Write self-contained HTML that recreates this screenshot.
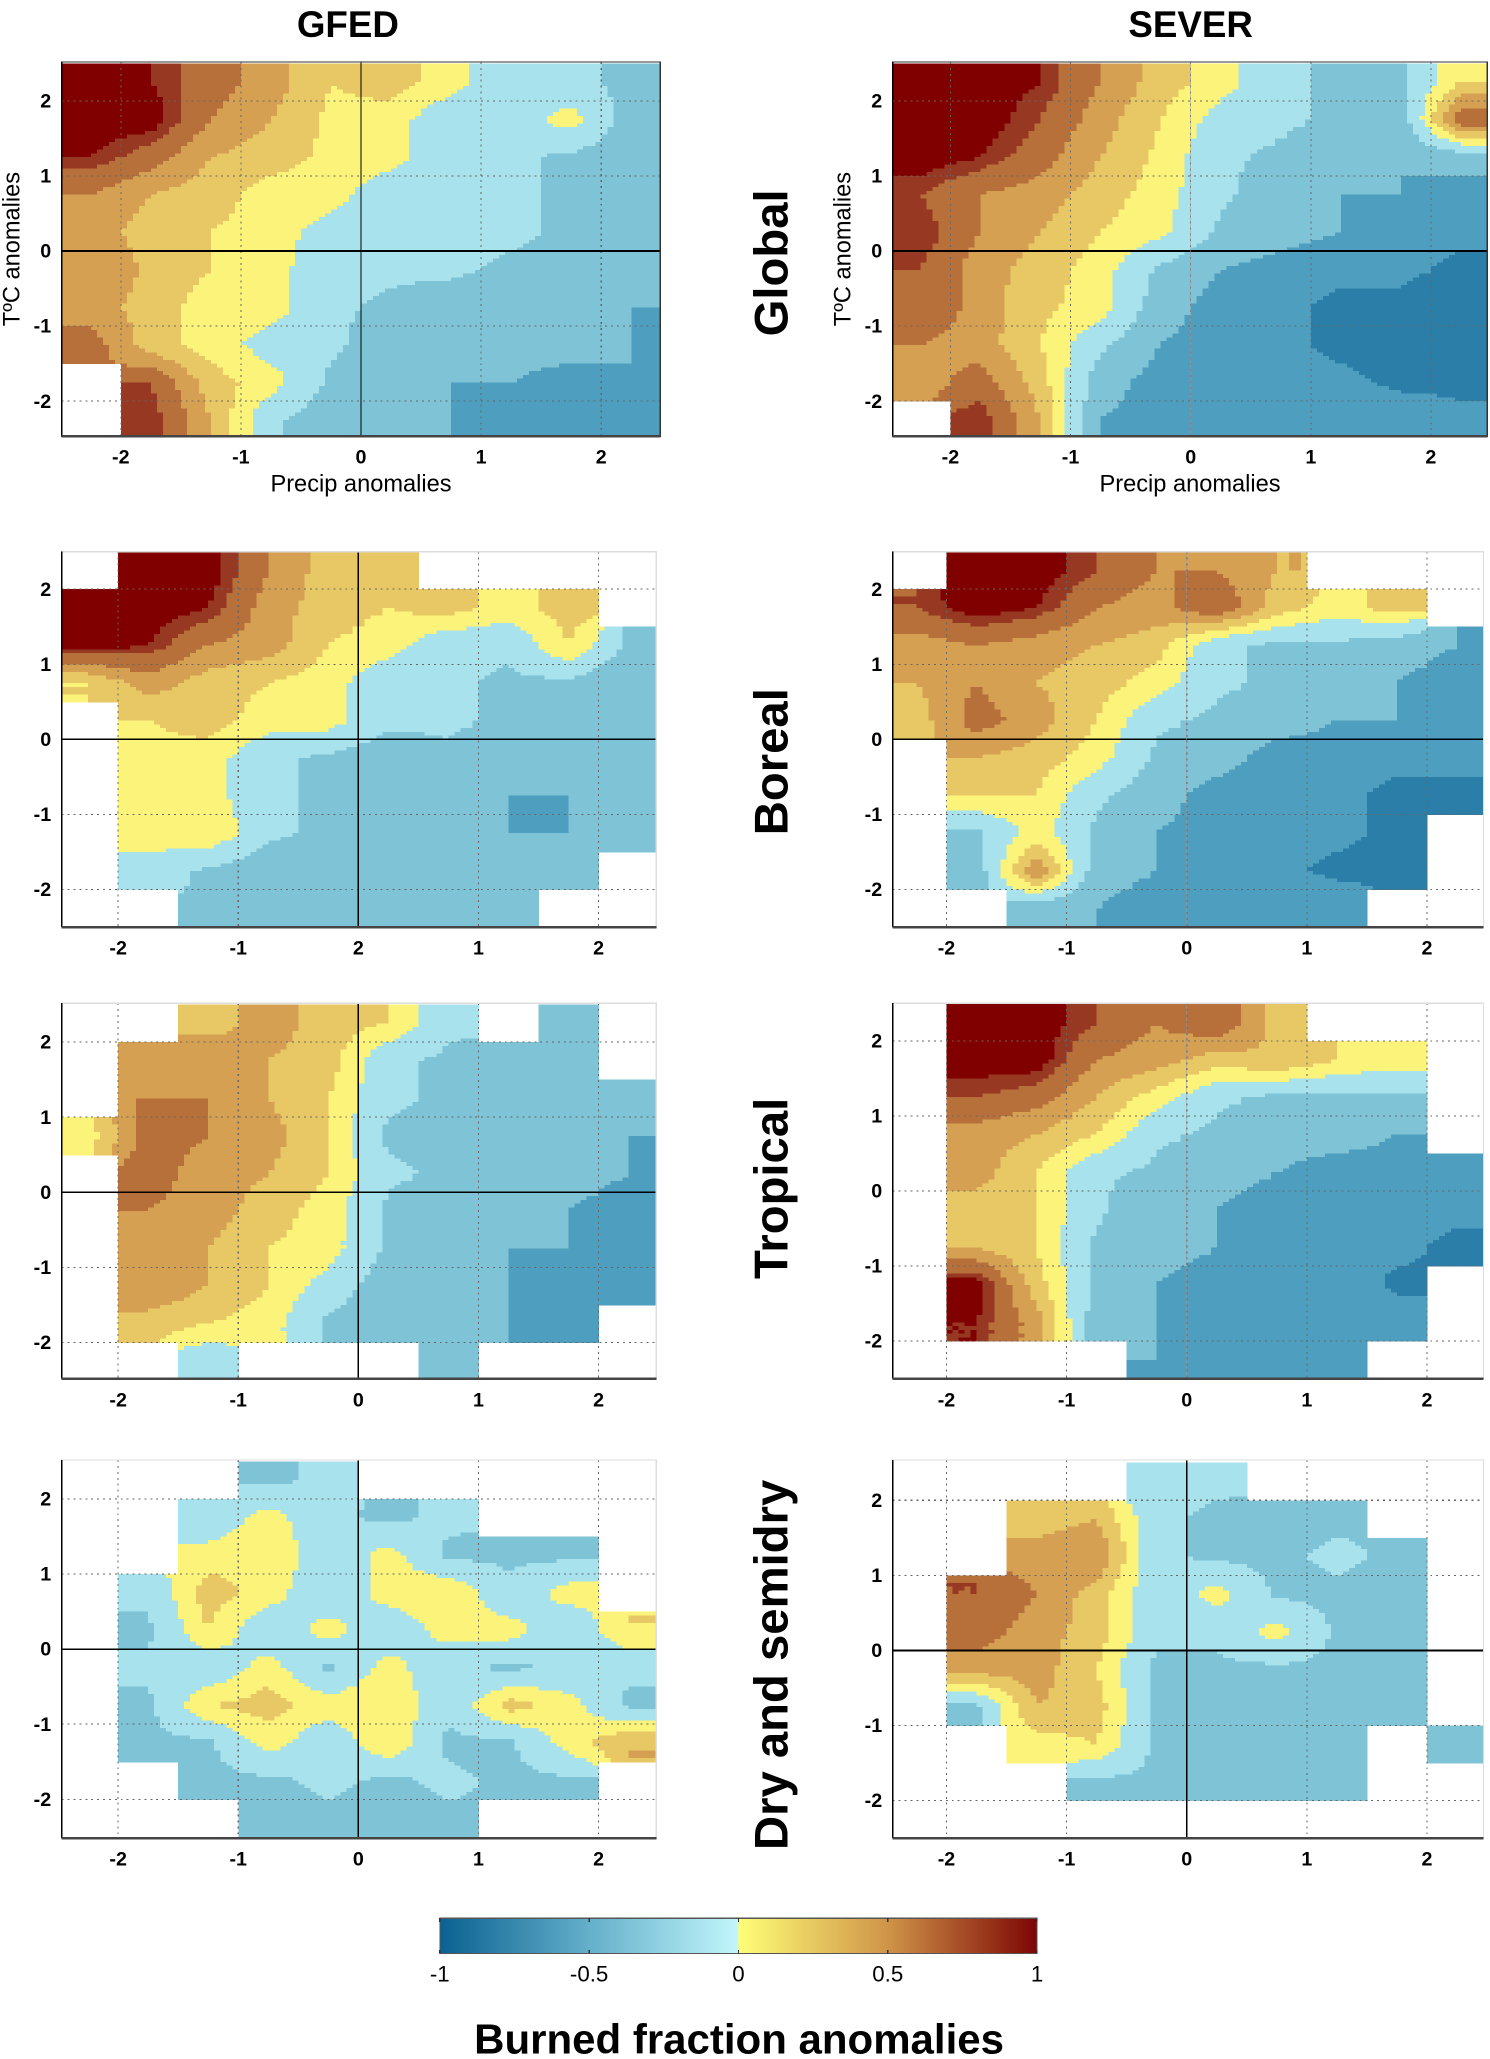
<!DOCTYPE html>
<html><head><meta charset="utf-8"><style>
html,body{margin:0;padding:0;background:#fff}
svg{display:block}
text{font-family:"Liberation Sans",Arial,sans-serif}
</style></head><body>
<svg id="fig" width="1490" height="2059" viewBox="0 0 1135 1568" xmlns="http://www.w3.org/2000/svg" shape-rendering="crispEdges">
<defs id="clips"></defs>
<g id="panels"></g>
<text x="265" y="28" font-size="28" font-weight="bold" text-anchor="middle">GFED</text>
<text x="907" y="28" font-size="28" font-weight="bold" text-anchor="middle">SEVER</text>
<text transform="translate(600,200) rotate(-90)" font-size="36" font-weight="bold" text-anchor="middle">Global</text>
<text transform="translate(600,580) rotate(-90)" font-size="36" font-weight="bold" text-anchor="middle">Boreal</text>
<text transform="translate(600,905) rotate(-90)" font-size="36" font-weight="bold" text-anchor="middle">Tropical</text>
<text transform="translate(600,1268) rotate(-90)" font-size="36" font-weight="bold" text-anchor="middle">Dry and semidry</text>
<g id="cbar"></g>
<text x="563" y="1564" font-size="32" font-weight="bold" text-anchor="middle">Burned  fraction  anomalies</text>
</svg>
<script>
const N = null;
const xCenters = [-2.25,-1.75,-1.25,-0.75,-0.25,0.25,0.75,1.25,1.75,2.25];
const yCenters = [2.25,1.75,1.25,0.75,0.25,-0.25,-0.75,-1.25,-1.75,-2.25];
const levelEdges = [-1,-0.75,-0.5,-0.25,0,0.2,0.4,0.6,0.8,0.9,1];
const levelColors = ["#2a7ea8","#4d9ebf","#7ec3d6","#a8e2ec","#fcf37a","#e8c865","#d5a052","#b8703a","#963822","#800000"];
const cbarTicks = [-1,-0.5,0,0.5,1];
const xTicks = [-2,-1,0,1,2];
const yTicks = [-2,-1,0,1,2];
const boreaGfedXLabels = ["-2","-1","2","1","2"];

const gfedGlobal = [
[1,0.9,0.7,0.5,0.2,0.3,0.1,-0.2,-0.2,-0.3],
[1,1,0.6,0.4,0.15,0.1,-0.2,-0.1,0.1,-0.4],
[0.9,0.7,0.4,0.3,0.15,0.1,-0.2,-0.2,-0.3,-0.4],
[0.6,0.4,0.3,0.1,0.1,-0.2,-0.2,-0.2,-0.3,-0.4],
[0.5,0.3,0.2,0.1,-0.1,-0.2,-0.2,-0.2,-0.3,-0.3],
[0.6,0.35,0.2,0.1,-0.2,-0.2,-0.2,-0.3,-0.3,-0.4],
[0.5,0.3,0.1,0.1,-0.2,-0.3,-0.4,-0.4,-0.4,-0.5],
[0.7,0.3,0.1,-0.1,-0.2,-0.4,-0.4,-0.4,-0.4,-0.5],
[N,0.8,0.3,0.1,-0.3,-0.4,-0.5,-0.5,-0.6,-0.5],
[N,0.9,0.4,-0.2,-0.4,-0.4,-0.5,-0.6,-0.5,-0.6]];
const severGlobal = [
[1,1,0.9,0.6,0.3,0.1,-0.2,-0.3,-0.3,0.2],
[1,1,0.8,0.5,0.2,-0.1,-0.2,-0.3,-0.4,0.8],
[1,0.9,0.7,0.4,0.15,-0.2,-0.3,-0.4,-0.5,-0.4],
[0.8,0.6,0.5,0.3,0.1,-0.2,-0.4,-0.5,-0.5,-0.6],
[0.9,0.6,0.4,0.2,0.05,-0.3,-0.4,-0.5,-0.6,-0.7],
[0.8,0.5,0.3,0.1,-0.3,-0.5,-0.6,-0.7,-0.7,-0.8],
[0.8,0.5,0.25,0.1,-0.4,-0.6,-0.7,-0.8,-0.8,-0.9],
[0.6,0.5,0.2,-0.2,-0.5,-0.6,-0.7,-0.8,-0.8,-0.9],
[0.5,0.7,0.3,-0.4,-0.6,-0.7,-0.7,-0.7,-0.8,-0.8],
[N,0.9,0.4,-0.5,-0.6,-0.6,-0.7,-0.6,-0.6,-0.7]];
const gfedBoreal = [
[N,1,1,0.6,0.3,0.3,N,N,N,N],
[1,1,0.9,0.5,0.3,0.2,0.3,0.1,0.3,N],
[1,0.9,0.6,0.5,0.2,0.1,-0.2,-0.2,0.2,-0.3],
[0.2,0.5,0.3,0.2,0.1,-0.2,-0.2,-0.3,-0.3,-0.5],
[N,0.2,0.3,0.1,0.1,-0.2,-0.2,-0.3,-0.4,-0.4],
[N,0.1,0.1,-0.2,-0.3,-0.4,-0.3,-0.4,-0.4,-0.4],
[N,0.2,0.1,-0.2,-0.3,-0.4,-0.4,-0.5,-0.5,-0.4],
[N,0.1,0.2,-0.2,-0.3,-0.4,-0.4,-0.5,-0.5,-0.4],
[N,-0.1,-0.3,-0.4,-0.4,-0.3,-0.5,-0.4,-0.4,N],
[N,N,-0.3,-0.4,-0.4,-0.3,-0.4,-0.4,N,N]];
const severBoreal = [
[N,1,1,0.8,0.6,0.6,0.4,N,N,N],
[0.8,1,0.9,0.6,0.5,0.8,0.3,0.1,0.3,N],
[0.5,0.6,0.5,0.4,0.3,-0.2,-0.3,-0.3,-0.4,-0.5],
[0.4,0.6,0.4,0.3,0.1,-0.2,-0.3,-0.4,-0.5,-0.6],
[0.3,0.7,0.5,0.2,-0.2,-0.3,-0.4,-0.5,-0.5,-0.6],
[N,0.4,0.3,0.1,-0.3,-0.4,-0.6,-0.6,-0.7,-0.7],
[N,0.2,0.2,-0.2,-0.4,-0.6,-0.7,-0.7,-0.8,-0.8],
[N,-0.3,0.1,-0.3,-0.5,-0.6,-0.7,-0.7,-0.8,N],
[N,-0.4,0.6,-0.4,-0.5,-0.6,-0.7,-0.8,-0.8,N],
[N,N,-0.4,-0.5,-0.6,-0.6,-0.6,-0.6,N,N]];
const gfedTropical = [
[N,N,0.3,0.5,0.3,0.2,-0.2,N,-0.3,N],
[N,0.5,0.6,0.4,0.3,-0.2,-0.3,-0.3,-0.3,N],
[N,0.6,0.6,0.4,0.2,-0.2,-0.3,-0.4,-0.4,-0.4],
[0.1,0.7,0.6,0.5,0.2,-0.3,-0.3,-0.3,-0.4,-0.5],
[N,0.7,0.5,0.4,0.2,-0.2,-0.3,-0.4,-0.4,-0.5],
[N,0.6,0.5,0.3,0.1,-0.3,-0.4,-0.4,-0.5,-0.6],
[N,0.5,0.4,0.2,0.1,-0.3,-0.4,-0.5,-0.5,-0.7],
[N,0.6,0.4,0.2,-0.1,-0.4,-0.5,-0.5,-0.5,-0.6],
[N,0.3,0.2,0.1,-0.3,-0.4,-0.4,-0.5,-0.5,N],
[N,N,-0.2,N,N,N,-0.3,N,N,N]];
const severTropical = [
[N,1,1,0.8,0.6,0.8,0.3,N,N,N],
[N,1,1,0.6,0.5,0.3,0.4,0.2,0.1,N],
[N,0.8,0.7,0.4,0.1,-0.2,-0.3,-0.3,-0.3,N],
[N,0.5,0.4,0.2,-0.2,-0.3,-0.4,-0.4,-0.5,N],
[N,0.5,0.2,-0.2,-0.3,-0.4,-0.5,-0.6,-0.6,-0.6],
[N,0.3,0.2,-0.2,-0.5,-0.5,-0.6,-0.7,-0.7,-0.7],
[N,0.4,0.2,-0.3,-0.4,-0.5,-0.6,-0.7,-0.7,-0.8],
[N,1,0.3,-0.3,-0.5,-0.6,-0.6,-0.6,-0.8,N],
[N,0.9,0.5,-0.4,-0.5,-0.6,-0.6,-0.6,-0.6,N],
[N,N,N,N,-0.5,-0.5,-0.5,-0.5,N,N]];
const gfedDry = [
[N,N,N,-0.3,-0.2,N,N,N,N,N],
[N,N,-0.2,0.1,-0.2,-0.3,-0.2,N,N,N],
[N,N,0.1,0.2,-0.2,0.1,-0.3,-0.3,-0.3,N],
[N,-0.2,0.3,0.1,-0.2,0.1,0.2,-0.2,0.1,N],
[N,-0.3,0.2,-0.2,0.1,-0.2,0.1,0.1,-0.2,0.2],
[N,-0.2,-0.2,0.1,-0.3,0.1,-0.2,-0.3,-0.2,-0.2],
[N,-0.3,0.2,0.3,0.1,0.2,-0.2,0.3,0.1,-0.3],
[N,-0.3,-0.3,0.1,-0.2,0.2,-0.3,-0.3,0.1,0.4],
[N,N,-0.3,-0.3,-0.2,-0.3,-0.2,-0.3,-0.3,N],
[N,N,N,-0.3,-0.3,-0.3,-0.3,N,N,N]];
const severDry = [
[N,N,N,N,-0.2,-0.2,N,N,N,N],
[N,N,0.3,0.4,-0.2,-0.3,-0.3,-0.3,N,N],
[N,N,0.5,0.6,-0.2,-0.3,-0.3,-0.2,-0.3,N],
[N,0.8,0.6,0.3,-0.2,0.1,-0.3,-0.3,-0.3,N],
[N,0.7,0.5,0.3,-0.2,-0.2,0.1,-0.3,-0.3,N],
[N,0.5,0.5,0.2,-0.3,-0.3,-0.3,-0.3,-0.3,N],
[N,-0.3,0.4,0.3,-0.3,-0.4,-0.3,-0.4,-0.3,N],
[N,N,0.1,0.2,-0.3,-0.4,-0.4,-0.4,N,-0.3],
[N,N,N,-0.3,-0.3,-0.3,-0.3,-0.3,N,N],
[N,N,N,N,N,N,N,N,N,N]];

const NS="http://www.w3.org/2000/svg";
function mk(tag,attrs,parent){const e=document.createElementNS(NS,tag);for(const k in attrs)e.setAttribute(k,attrs[k]);parent.appendChild(e);return e;}
function colorOf(v){for(let i=0;i<levelColors.length;i++){if(v<=levelEdges[i+1])return levelColors[i];}return levelColors[levelColors.length-1];}

const panels=[
 {name:"gfed-global",data:gfedGlobal,L:47,R:503,T:47,B:332,x0:275,y0:191,box:true,xl:true,vline:true,labels:null},
 {name:"sever-global",data:severGlobal,L:680,R:1133,T:47,B:332,x0:907,y0:191,box:true,xl:true,vline:false,labels:null},
 {name:"gfed-boreal",data:gfedBoreal,L:47,R:500,T:420,B:706,x0:273,y0:563,box:false,vline:true,labels:boreaGfedXLabels},
 {name:"sever-boreal",data:severBoreal,L:680,R:1130,T:420,B:706,x0:904,y0:563,box:false,vline:false,labels:null},
 {name:"gfed-tropical",data:gfedTropical,L:47,R:500,T:764,B:1050,x0:273,y0:908,box:false,vline:true,labels:null},
 {name:"sever-tropical",data:severTropical,L:680,R:1130,T:764,B:1050,x0:904,y0:907,box:false,vline:false,hnone:true,labels:null},
 {name:"gfed-dry",data:gfedDry,L:47,R:500,T:1112,B:1400,x0:273,y0:1256,box:false,vline:true,labels:null},
 {name:"sever-dry",data:severDry,L:680,R:1130,T:1112,B:1400,x0:904,y0:1257,box:false,vline:true,labels:null}];
const xUnit=91.5, yUnit=57.2;
const root=document.getElementById('panels');
const clips=document.getElementById('clips');
panels.forEach((p,pi)=>{
 const cp=mk('clipPath',{id:'clip'+pi},clips);
 mk('rect',{x:p.L,y:p.T,width:p.R-p.L,height:p.B-p.T},cp);
 const g=mk('g',{},root);
 
 
 const sx=v=>p.x0+v*xUnit, sy=v=>p.y0-v*yUnit;
 const d=p.data, SUB=10;
 const nx=xCenters.length, ny=yCenters.length;
 const fi=(r,c)=>{
   const r0=Math.floor(r),c0=Math.floor(c);
   let s=0,w=0;
   for(const [rr,wr] of [[r0,1-(r-r0)],[r0+1,r-r0]])for(const [cc,wc] of [[c0,1-(c-c0)],[c0+1,c-c0]]){
     if(rr<0||rr>=ny||cc<0||cc>=nx)continue;const v=d[rr][cc];if(v===null)continue;s+=v*wr*wc;w+=wr*wc;}
   return w>0?s/w:null;};
 const cw=(sx(xCenters[1])-sx(xCenters[0]))/SUB, ch=(sy(yCenters[1])-sy(yCenters[0]))/SUB;
 const cells=mk('g',{'clip-path':'url(#clip'+pi+')'},g);
 
 
 for(let r=0;r<ny*SUB;r++){
   const rf=(r+0.5)/SUB-0.5; const nr=Math.round(rf<0?0:rf>ny-1?ny-1:rf);
   let run=null;
   const flush=()=>{if(run){const e=mk('rect',{x:(sx(xCenters[0])-cw*SUB/2+run.c*cw).toFixed(2),y:(sy(yCenters[0])-ch*SUB/2+r*ch).toFixed(2),width:(run.n*cw+0.4).toFixed(2),height:(ch+0.4).toFixed(2),fill:run.col},cells);}run=null;};
   for(let c=0;c<nx*SUB;c++){
     const cf=(c+0.5)/SUB-0.5; const nc=Math.round(cf<0?0:cf>nx-1?nx-1:cf);
     let col=null;
     if(d[nr][nc]!==null){const v=fi(Math.max(0,Math.min(ny-1,rf)),Math.max(0,Math.min(nx-1,cf)));if(v!==null)col=colorOf(v);}
     if(run&&run.col===col){run.n++;}else{flush();if(col)run={c:c,n:1,col:col};}
   }
   flush();
 }
 xTicks.forEach(t=>{const l=mk('line',{x1:sx(t),x2:sx(t),y1:p.T,y2:p.B,stroke:'#666','stroke-dasharray':'1.5 3','stroke-width':0.8},g);});
 yTicks.forEach(t=>{const l=mk('line',{x1:p.L,x2:p.R,y1:sy(t),y2:sy(t),stroke:'#666','stroke-dasharray':'1.5 3','stroke-width':0.8},g);});
 if(!p.hnone){const h=mk('line',{x1:p.L,x2:p.R,y1:sy(0),y2:sy(0),stroke:'#000','stroke-width':1.3},g);}
 const v=mk('line',{x1:sx(0),x2:sx(0),y1:p.T,y2:p.B,stroke:p.vline?'#000':'#999','stroke-width':p.vline?1:0.6},g);
 const fr=mk('rect',{x:p.L,y:p.T,width:p.R-p.L,height:p.B-p.T,fill:'none',stroke:p.box?'#333':'#ddd','stroke-width':1},g);
 mk('line',{x1:p.L,x2:p.L,y1:p.T,y2:p.B,stroke:'#000','stroke-width':1},g);
 mk('line',{x1:p.L,x2:p.R,y1:p.B,y2:p.B,stroke:'#444','stroke-width':2},g);
 xTicks.forEach((t,i)=>{const e=mk('text',{x:sx(t),y:p.B+21,'font-size':15,'font-weight':'bold','text-anchor':'middle'},g);e.textContent=p.labels?p.labels[i]:String(t);});
 yTicks.forEach(t=>{const e=mk('text',{x:p.L-8,y:sy(t)+5,'font-size':15,'font-weight':'bold','text-anchor':'end'},g);e.textContent=String(t);});
 if(p.xl){
   const xt=mk('text',{x:(p.L+p.R)/2,y:p.B+42,'font-size':18,'text-anchor':'middle'},g);xt.textContent='Precip anomalies';
   
   const yt=mk('text',{transform:`translate(${p.L-32},${(p.T+p.B)/2}) rotate(-90)`,'font-size':18,'text-anchor':'middle'},g);yt.textContent='T\u00BAC anomalies';
   
 }
});
const cb=document.getElementById('cbar');
const cL=335,cR=790,cT=1461,cB=1488,cx=v=>cL+(v+1)/2*(cR-cL);
const stops=[[-1,"#0a6190"],[-0.5,"#64afca"],[-0.001,"#c2f6fb"],[0,"#fefe78"],[0.5,"#cf9448"],[1,"#7d0505"]];
const defs=mk('defs',{},cb);const lg=mk('linearGradient',{id:'cg',x1:0,x2:1,y1:0,y2:0},defs);
stops.forEach(s=>mk('stop',{offset:((s[0]+1)/2),'stop-color':s[1]},lg));
const cr=mk('rect',{x:cL,y:cT,width:cR-cL,height:cB-cT,fill:'url(#cg)',stroke:'#555','stroke-width':0.8},cb);

cbarTicks.forEach(t=>{mk('line',{x1:cx(t),x2:cx(t),y1:cT,y2:cT+3,stroke:'#333'},cb);mk('line',{x1:cx(t),x2:cx(t),y1:cB-3,y2:cB,stroke:'#333'},cb);
 const e=mk('text',{x:cx(t),y:cB+21,'font-size':17,'text-anchor':'middle'},cb);e.textContent=String(t);});
</script>
</body></html>
